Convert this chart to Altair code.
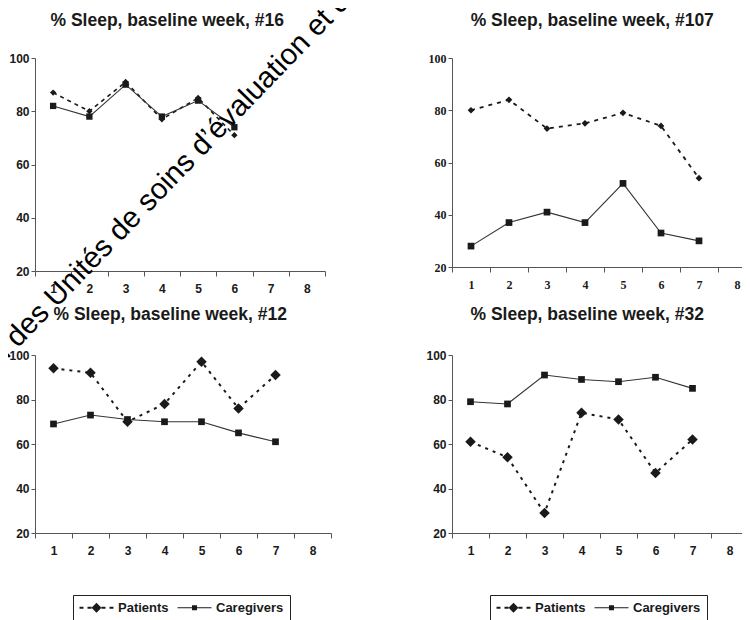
import altair as alt
import pandas as pd

# ---------------- data ----------------
days = [1, 2, 3, 4, 5, 6, 7, 8]
series_names = ["Patients", "Caregivers"]
y_ticks = [20, 40, 60, 80, 100]

titles = [
    "% Sleep, baseline week, #16",
    "% Sleep, baseline week, #107",
    "% Sleep, baseline week, #12",
    "% Sleep, baseline week, #32",
]

p16_patients = [87, 80, 91, 77, 85, 71]
p16_caregivers = [82, 78, 90, 78, 84, 74]

p107_patients = [80, 84, 73, 75, 79, 74, 54]
p107_caregivers = [28, 37, 41, 37, 52, 33, 30]

p12_patients = [94, 92, 70, 78, 97, 76, 91]
p12_caregivers = [69, 73, 71, 70, 70, 65, 61]

p32_patients = [61, 54, 29, 74, 71, 47, 62]
p32_caregivers = [79, 78, 91, 89, 88, 90, 85]

watermark_text = ["al des Unités de soins d’évaluation et de"]

# ---------------- styling ----------------
SANS = "Liberation Sans"
SERIF = "Liberation Serif"
INK = "#1a1a1a"
AXIS = "#555555"

# legend glyphs drawn as filled shapes: "- -◆- -" and "——■——"
PAT_PATH = ("M-2.83,-0.17H-2.17V0.17H-2.83Z"
            "M-1.5,-0.17H-0.83V0.17H-1.5Z"
            "M0,-0.83L0.83,0L0,0.83L-0.83,0Z"
            "M0.83,-0.17H1.5V0.17H0.83Z"
            "M2.17,-0.17H2.83V0.17H2.17Z")
CAR_PATH = ("M-2.83,-0.09H2.83V0.09H-2.83Z"
            "M-0.42,-0.42H0.42V0.42H-0.42Z")


def frame(pat, car):
    rows = []
    for d, v in zip(days, pat):
        rows.append({"day": d, "value": v, "series": "Patients"})
    for d, v in zip(days, car):
        rows.append({"day": d, "value": v, "series": "Caregivers"})
    return pd.DataFrame(rows)


def make_legend():
    return alt.Legend(
        orient="none",
        legendX=38,
        legendY=240,
        direction="horizontal",
        title=None,
        strokeColor="#222222",
        padding=6,
        labelFont=SANS,
        labelFontWeight="bold",
        labelFontSize=13,
        labelColor=INK,
        labelOffset=15,
        symbolOffset=11,
        columnPadding=8,
        symbolSize=144,
        symbolFillColor=INK,
        symbolStrokeWidth=0,
        symbolOpacity=1,
    )


def panel(title, pat, car, w, h, label_font, title_offset, show_legend,
          diamond_size, square_size, dash, pat_width):
    df = frame(pat, car)
    x = alt.X(
        "day:O",
        bandPosition=0.5,
        scale=alt.Scale(type="band", domain=days, paddingInner=0, paddingOuter=0),
        axis=alt.Axis(
            title=None, labelAngle=0, tickBand="extent",
            labelFont=label_font, labelFontSize=12, labelFontWeight="bold",
            labelColor=INK, labelPadding=7, tickSize=5,
            domainColor=AXIS, tickColor=AXIS,
        ),
    )
    y = alt.Y(
        "value:Q",
        scale=alt.Scale(domain=[20, 100], nice=False, zero=False),
        axis=alt.Axis(
            title=None, values=y_ticks, grid=False,
            labelFont=label_font, labelFontSize=12, labelFontWeight="bold",
            labelColor=INK, labelPadding=2, tickSize=4,
            domainColor=AXIS, tickColor=AXIS,
        ),
    )
    base = alt.Chart(df)
    pat_line = base.transform_filter(alt.datum.series == "Patients").mark_line(
        color=INK, strokeWidth=pat_width, strokeDash=dash
    ).encode(x=x, y=y)
    car_line = base.transform_filter(alt.datum.series == "Caregivers").mark_line(
        color="#333333", strokeWidth=1.1
    ).encode(x=x, y=y)
    pat_pts = base.transform_filter(alt.datum.series == "Patients").mark_point(
        shape="diamond", filled=True, size=diamond_size, color=INK, opacity=1
    ).encode(x=x, y=y)
    car_pts = base.transform_filter(alt.datum.series == "Caregivers").mark_point(
        shape="square", filled=True, size=square_size, color=INK, opacity=1
    ).encode(x=x, y=y)
    layers = [pat_line, car_line, pat_pts, car_pts]
    if show_legend:
        legend_layer = base.transform_filter("false").mark_point(
            filled=True, size=144, color=INK, opacity=1
        ).encode(
            x=x, y=y,
            shape=alt.Shape(
                "series:N",
                scale=alt.Scale(domain=series_names, range=[PAT_PATH, CAR_PATH]),
                legend=make_legend(),
            ),
        )
        layers.append(legend_layer)
    return alt.layer(*layers).properties(
        width=w,
        height=h,
        title=alt.TitleParams(
            title, font=SANS, fontSize=17.5, fontWeight="bold", color=INK,
            anchor="middle", frame="bounds", offset=title_offset,
        ),
    )


p1 = panel(titles[0], p16_patients, p16_caregivers, 290, 213, SANS, 23, False, 40, 40, [4, 4], 1.6)
p2 = panel(titles[1], p107_patients, p107_caregivers, 304, 209, SERIF, 23, False, 45, 45, [4, 5], 1.8)
p3 = panel(titles[2], p12_patients, p12_caregivers, 296, 178, SANS, 26, True, 110, 45, [3, 5], 2)
p4 = panel(titles[3], p32_patients, p32_caregivers, 296, 178, SANS, 26, True, 110, 45, [3, 5], 2)

wm = alt.Chart(pd.DataFrame({"text": watermark_text})).mark_text(
    angle=314, align="left", baseline="alphabetic", font=SANS, fontSize=29.5, color="#000000"
).encode(
    x=alt.value(-39), y=alt.value(-246), text="text:N"
).properties(width=1, height=1)

chart = alt.concat(
    p1, p2, p3, p4, wm,
    columns=2,
    spacing={"row": 84, "column": 121},
    bounds="flush",
).resolve_scale(
    shape="independent"
).properties(
    padding={"left": -30, "top": -34, "right": -15, "bottom": -2},
    background="white",
).configure_view(stroke=None)

chart.save("out.html", embed_options={"renderer": "svg", "actions": False})
